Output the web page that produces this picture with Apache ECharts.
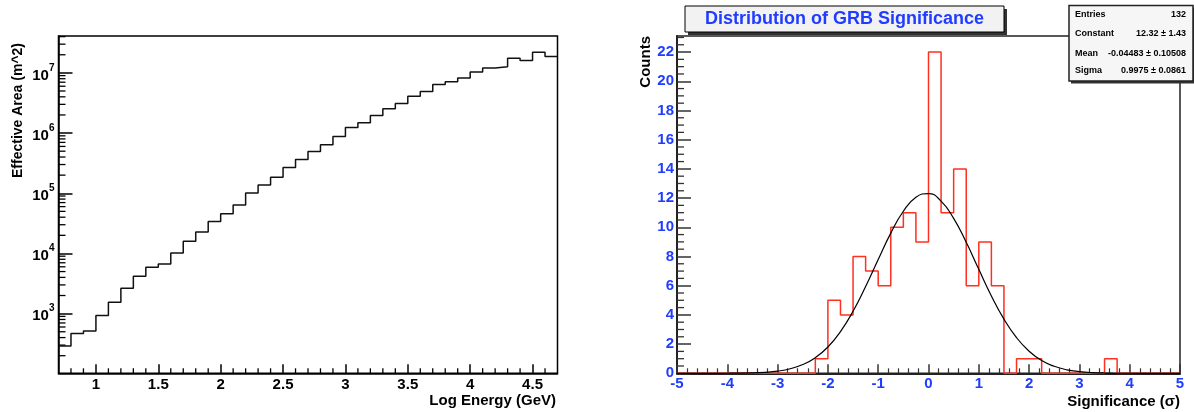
<!DOCTYPE html>
<html><head><meta charset="utf-8">
<script src="https://cdn.jsdelivr.net/npm/echarts@6/dist/echarts.min.js"></script>
<style>html,body{margin:0;padding:0;background:#fff}#c{width:1194px;height:412px}</style>
</head><body><div id="c"></div>
<script>
// ---- Left panel: effective area vs log energy ----
const areaBinStart = 0.7;
const areaBinWidth = 0.1;
const areaValues = [290, 466, 516, 927, 1540, 2630, 4170, 5880, 6680, 10200,
  15900, 22700, 34100, 45700, 63700, 100700, 136700, 185000, 268000, 365000,
  495000, 638000, 877000, 1240000, 1480000, 1960000, 2530000, 3100000, 4100000, 4900000,
  6400000, 7090000, 8260000, 10300000, 12100000, 12700000, 17500000, 16000000, 22000000, 18700000];
const areaXTicks = [1, 1.5, 2, 2.5, 3, 3.5, 4, 4.5];
const areaYTicks = [1e3, 1e4, 1e5, 1e6, 1e7];

// ---- Right panel: distribution of GRB significance ----
const sigBinStart = -5;
const sigBinWidth = 0.25;
const sigCounts = [0,0,0,0,0,0,0,0,0,0,0,
  1,5,4,8,7,6,10,11,9,22,11,14,6,9,6,0,1,1,
  0,0,0,0,0,1,0,0,0,0,0];
const sigYTicks = [0,2,4,6,8,10,12,14,16,18,20,22];
const fitX = [-5,-4.5,-4,-3.5,-3.25,-3,-2.75,-2.5,-2.25,-2,-1.75,-1.5,-1.25,-1,-0.75,-0.5,-0.25,0,
  0.25,0.5,0.75,1,1.25,1.5,1.75,2,2.25,2.5,2.75,3,3.25,3.5,4,4.5,5];
const fitY = [0,0.0003,0.005,0.03,0.07,0.15,0.31,0.60,1.07,1.80,2.86,4.25,5.94,7.79,9.60,11.10,12.06,12.31,
  11.79,10.61,8.97,7.12,5.30,3.71,2.44,1.51,0.87,0.48,0.24,0.12,0.05,0.02,0.003,0.0002,0];
const statsRows = [['Entries','132'],['Constant','12.32 \u00b1 1.43'],['Mean','-0.04483 \u00b1 0.10508'],['Sigma','0.9975 \u00b1 0.0861']];

function histPoints(start, width, vals){
  const pts = vals.map((v,i)=>[start + i*width, v]);
  pts.push([start + vals.length*width, vals[vals.length-1]]);
  return pts;
}
const FONT = '"Liberation Sans", Arial, Helvetica, sans-serif';
const BLUE = '#1f3cff';

const AREA_XMIN = 0.7, AREA_XMAX = 4.7, AREA_YMIN = 102, AREA_YMAX = 4.1e7;
const SIG_XMIN = -5, SIG_XMAX = 5, SIG_YMIN = 0, SIG_YMAX = 23.1;

const areaXMinor = [];
for (let i=8;i<=46;i++){ if (i%5!==0) areaXMinor.push(i/10); }
const areaYMinor = [];
for (let e=2;e<=7;e++){ for (let m=2;m<=9;m++){ const v=m*Math.pow(10,e); if (v<=AREA_YMAX) areaYMinor.push(v); } }
const sigYMinor = [];
for (let i=1;i<=46;i++){ if (i%4!==0) sigYMinor.push(i*0.5); }

// minor ticks drawn through the axes' own scales
function tickSeries(xi, yi, values, dir, edge, len, color){
  return {
    type:'custom', xAxisIndex:xi, yAxisIndex:yi, clip:false, z:3, silent:true,
    data: values.map(v => dir==='y' ? [edge, v] : [v, edge]),
    renderItem:(params, api)=>{
      const p = api.coord([api.value(0), api.value(1)]);
      const shape = dir==='y' ? {x1:p[0], y1:p[1], x2:p[0]+len, y2:p[1]}
                              : {x1:p[0], y1:p[1], x2:p[0], y2:p[1]-len};
      return {type:'line', shape, style:{stroke:color, lineWidth:1.3}};
    }
  };
}

const chart = echarts.init(document.getElementById('c'), null, {renderer:'canvas'});
chart.setOption({
  animation:false,
  backgroundColor:'#fff',
  grid:[
    {left:58.5, right:636.5, top:36, bottom:38.7, show:true, borderColor:'#000', borderWidth:1.5, outerBoundsMode:'none'},
    {left:677, right:14, top:36, bottom:38.7, show:true, borderColor:'#222', borderWidth:1.5, outerBoundsMode:'none'}
  ],
  xAxis:[
    {type:'value', gridIndex:0, position:'bottom', min:AREA_XMIN, max:AREA_XMAX, splitLine:{show:false},
     axisLine:{show:true, onZero:false, lineStyle:{color:'#000', width:1.5}},
     axisTick:{show:true, inside:true, length:9, customValues:areaXTicks, lineStyle:{color:'#000', width:1.5}},
     axisLabel:{customValues:areaXTicks, color:'#000', fontFamily:FONT, fontWeight:'bold', fontSize:15, margin:4, formatter:v=>String(v)}},
    {type:'value', gridIndex:1, position:'bottom', min:SIG_XMIN, max:SIG_XMAX, interval:1, splitLine:{show:false},
     axisLine:{show:true, onZero:false, lineStyle:{color:'#222', width:2}},
     axisTick:{show:true, inside:true, length:9, lineStyle:{color:'#333', width:1.5}},
     minorTick:{show:true, splitNumber:5, length:5, lineStyle:{color:'#333', width:1.2}},
     axisLabel:{color:BLUE, fontFamily:FONT, fontWeight:'bold', fontSize:15, margin:3}}
  ],
  yAxis:[
    {type:'log', logBase:10, gridIndex:0, position:'left', min:AREA_YMIN, max:AREA_YMAX, splitLine:{show:false},
     axisLine:{show:true, onZero:false, lineStyle:{color:'#000', width:1.5}},
     axisTick:{show:true, inside:true, length:14, customValues:areaYTicks, lineStyle:{color:'#000', width:1.5}},
     axisLabel:{customValues:areaYTicks, margin:4, color:'#000',
       formatter:v=>'{b|10}{s|'+Math.round(Math.log10(v))+'}',
       rich:{b:{fontFamily:FONT, fontWeight:'bold', fontSize:15, color:'#000', lineHeight:20, verticalAlign:'bottom'},
             s:{fontFamily:FONT, fontWeight:'bold', fontSize:10, color:'#000', lineHeight:10, verticalAlign:'top'}}}},
    {type:'value', gridIndex:1, position:'left', min:SIG_YMIN, max:SIG_YMAX, splitLine:{show:false},
     axisLine:{show:true, onZero:false, lineStyle:{color:'#222', width:2}},
     axisTick:{show:true, inside:true, length:14, customValues:sigYTicks, lineStyle:{color:'#333', width:1.5}},
     axisLabel:{customValues:sigYTicks, color:BLUE, fontFamily:FONT, fontWeight:'bold', fontSize:15, margin:3}}
  ],
  series:[
    {type:'line', xAxisIndex:0, yAxisIndex:0, step:'end', symbol:'none', clip:false,
     lineStyle:{color:'#111', width:1.5}, data:histPoints(areaBinStart, areaBinWidth, areaValues)},
    {type:'line', xAxisIndex:1, yAxisIndex:1, step:'end', symbol:'none', clip:false, z:3,
     lineStyle:{color:'#ff3020', width:1.5}, data:histPoints(sigBinStart, sigBinWidth, sigCounts)},
    {type:'line', xAxisIndex:1, yAxisIndex:1, smooth:true, symbol:'none', clip:false, z:4,
     lineStyle:{color:'#000', width:1.2}, data:fitX.map((x,i)=>[x, fitY[i]])},
    tickSeries(0, 0, areaYMinor, 'y', AREA_XMIN, 7, '#000'),
    tickSeries(0, 0, areaXMinor, 'x', AREA_YMIN, 5, '#000'),
    tickSeries(1, 1, sigYMinor, 'y', SIG_XMIN, 7, '#333')
  ],
  graphic:[
    {type:'text', x:18, y:43, rotation:Math.PI/2,
     style:{text:'Effective Area (m^2)', fill:'#000', font:'bold 14px '+FONT, textAlign:'right', textVerticalAlign:'middle'}},
    {type:'text', x:556, y:401,
     style:{text:'Log Energy (GeV)', fill:'#000', font:'bold 15px '+FONT, textAlign:'right', textVerticalAlign:'middle'}},
    {type:'text', x:646, y:36, rotation:Math.PI/2,
     style:{text:'Counts', fill:'#000', font:'bold 15px '+FONT, textAlign:'right', textVerticalAlign:'middle'}},
    {type:'text', x:1180, y:401.5,
     style:{text:'Significance (\u03c3)', fill:'#000', font:'bold 15px '+FONT, textAlign:'right', textVerticalAlign:'middle'}},
    // title box
    {type:'rect', z:10, shape:{x:688, y:9, width:319, height:26}, style:{fill:'#333'}},
    {type:'rect', z:11, shape:{x:685, y:6, width:319, height:26}, style:{fill:'#f2f2f2', stroke:'#000', lineWidth:1}},
    {type:'text', z:12, x:844.5, y:19,
     style:{text:'Distribution of GRB Significance', fill:BLUE, font:'bold 18px '+FONT, textAlign:'center', textVerticalAlign:'middle'}},
    // stats box
    {type:'rect', z:10, shape:{x:1071, y:7.5, width:124, height:76}, style:{fill:'#333'}},
    {type:'rect', z:11, shape:{x:1069, y:5.5, width:124, height:75.5}, style:{fill:'#f6f6f6', stroke:'#222', lineWidth:1.5}},
    ...statsRows.flatMap((r,i)=>{
      const ys=[15,33.3,53.3,70.7];
      return [
        {type:'text', z:12, x:1075, y:ys[i], style:{text:r[0], fill:'#000', font:'bold 9px '+FONT, textAlign:'left', textVerticalAlign:'middle'}},
        {type:'text', z:12, x:1186, y:ys[i], style:{text:r[1], fill:'#000', font:'bold 9px '+FONT, textAlign:'right', textVerticalAlign:'middle'}}
      ];
    })
  ]
});
</script>
</body></html>
